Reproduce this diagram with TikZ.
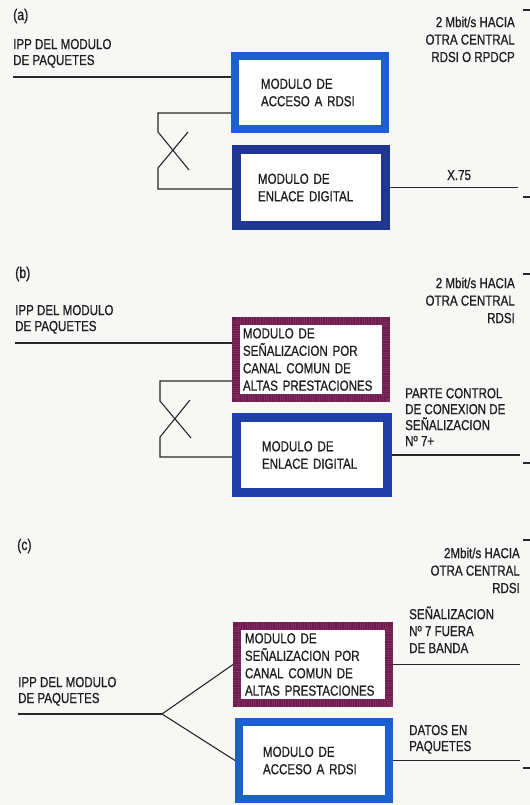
\documentclass[tikz,border=0pt]{standalone}
\usepackage{xcolor}
\usepackage{tikz}
\usepackage{fontspec}
\newfontfamily\DiagFont{Liberation Sans}[FakeStretch=0.8,FakeBold=0.8]
\definecolor{AccessBlue}{RGB}{28,96,208}
\definecolor{LinkNavy}{RGB}{32,55,145}
\definecolor{LinkBlue}{RGB}{30,62,168}
\definecolor{SignalPurple}{RGB}{106,28,76}
\definecolor{SignalStripe}{RGB}{132,42,96}
\definecolor{WireGray}{RGB}{40,40,40}
\definecolor{InkText}{RGB}{30,30,30}
\definecolor{PaperWhite}{RGB}{247,247,245}

\begin{document}
\begin{tikzpicture}[x=1bp,y=-1bp,
    wire/.style={draw=WireGray,line width=1.1bp},
    modbox/.style={rectangle,fill=white,inner sep=0pt,align=left,text=InkText,
      font=\DiagFont\fontsize{14.5}{17.5}\selectfont},
    accbox/.style={modbox,draw=AccessBlue,line width=8bp},
    lnkbox/.style={modbox,draw=LinkNavy,line width=9bp},
    sigbox/.style={modbox,draw=SignalPurple,line width=8bp,
      postaction={draw=SignalStripe,line width=8bp,dash pattern=on 0.8bp off 1.5bp}},
    lbl/.style={inner sep=0pt,align=left,text=InkText,
      font=\DiagFont\fontsize{14.5}{16}\selectfont},
    lblr/.style={lbl,align=right,font=\DiagFont\fontsize{14.5}{17.5}\selectfont},
    tag/.style={inner sep=0pt,text=InkText,font=\DiagFont\fontsize{15.5}{17}\selectfont}]

    \fill[PaperWhite] (0,0) rectangle (530,805);
    \useasboundingbox (0,0) rectangle (530,805);

    % (a)
    \node[tag,anchor=base west] (tagA) at (13,20) {(a)};
    \node[lbl,anchor=base west] (srcA) at (13,65) {IPP DEL MODULO\\DE PAQUETES};
    \node[lblr,anchor=base east] (dstA) at (515,62) {2 Mbit/s HACIA\\OTRA CENTRAL\\RDSI O RPDCP};
    \node[lbl,anchor=base west] (protA) at (447,180) {X.75};
    \node[accbox,minimum width=150bp,minimum height=73bp,text width=98bp]
      (accA) at (310,92.5) {MODULO DE\\ACCESO A RDSI};
    \node[lnkbox,minimum width=149bp,minimum height=76bp,text width=106bp]
      (lnkA) at (311,187.5) {MODULO DE\\ENLACE DIGITAL};
    \coordinate (inA) at (13,77);
    \coordinate (endA) at (518,188);
    \coordinate (loopA1) at (158,113);
    \coordinate (loopA2) at (158,189);
    \draw[wire] (inA) -- (inA -| accA.west);
    \draw[wire] (loopA1 -| accA.west) -- (loopA1) -- ++(0,19) -- ++(31,38);
    \draw[wire] (loopA2 -| lnkA.west) -- (loopA2) -- ++(0,-21) -- ++(30,-36);
    \draw[wire] (lnkA.east) -- (lnkA.east -| endA);

    % (b)
    \node[tag,anchor=base west] (tagB) at (15,278) {(b)};
    \node[lbl,anchor=base west] (srcB) at (15,331) {IPP DEL MODULO\\DE PAQUETES};
    \node[lblr,anchor=base east] (dstB) at (515,323) {2 Mbit/s HACIA\\OTRA CENTRAL\\RDSI};
    \node[lbl,anchor=base west] (ctlB) at (405,446) {PARTE CONTROL\\DE CONEXION DE\\SEÑALIZACION\\Nº 7+};
    \node[sigbox,minimum width=150bp,minimum height=77bp,text width=136bp]
      (sigB) at (311,359.5) {MODULO DE\\SEÑALIZACION POR\\CANAL COMUN DE\\ALTAS PRESTACIONES};
    \node[lnkbox,draw=LinkBlue,minimum width=151bp,minimum height=75bp,text width=100bp]
      (lnkB) at (312,455) {MODULO DE\\ENLACE DIGITAL};
    \coordinate (inB) at (15,343);
    \coordinate (endB) at (520,455);
    \coordinate (loopB1) at (160,381);
    \coordinate (loopB2) at (160,457);
    \draw[wire] (inB) -- (inB -| sigB.west);
    \draw[wire] (loopB1 -| sigB.west) -- (loopB1) -- ++(0,20) -- ++(31,37);
    \draw[wire] (loopB2 -| lnkB.west) -- (loopB2) -- ++(0,-20) -- ++(30,-37);
    \draw[wire] (lnkB.east) -- (lnkB.east -| endB);

    % (c)
    \node[tag,anchor=base west] (tagC) at (17,550) {(c)};
    \node[lblr,anchor=base east] (dstC) at (520,593) {2Mbit/s HACIA\\OTRA CENTRAL\\RDSI};
    \node[lbl,anchor=base west] (srcC) at (18,703) {IPP DEL MODULO\\DE PAQUETES};
    \node[lbl,anchor=base west,font=\DiagFont\fontsize{14.5}{17}\selectfont]
      (oobC) at (409,653) {SEÑALIZACION\\Nº 7 FUERA\\DE BANDA};
    \node[lbl,anchor=base west] (datC) at (409,751) {DATOS EN\\PAQUETES};
    \node[sigbox,minimum width=152bp,minimum height=77bp,text width=136bp]
      (sigC) at (313,664.5) {MODULO DE\\SEÑALIZACION POR\\CANAL COMUN DE\\ALTAS PRESTACIONES};
    \node[accbox,minimum width=150bp,minimum height=77bp,text width=102bp]
      (accC) at (314,760.5) {MODULO DE\\ACCESO A RDSI};
    \coordinate (inC) at (18,714);
    \coordinate (forkC) at (162,714);
    \coordinate (endC) at (520,0);
    \draw[wire] (inC) -- (forkC);
    \draw[wire] (forkC) -- (sigC.west);
    \draw[wire] (forkC) -- (accC.west);
    \draw[wire] (sigC.east) -- (sigC.east -| endC);
    \draw[wire] (accC.east) -- (accC.east -| endC);

    \foreach \ty in {10,197,274,463,540,768}
      \draw[wire] (523,\ty) -- (530,\ty);
  \end{tikzpicture}
\end{document}
